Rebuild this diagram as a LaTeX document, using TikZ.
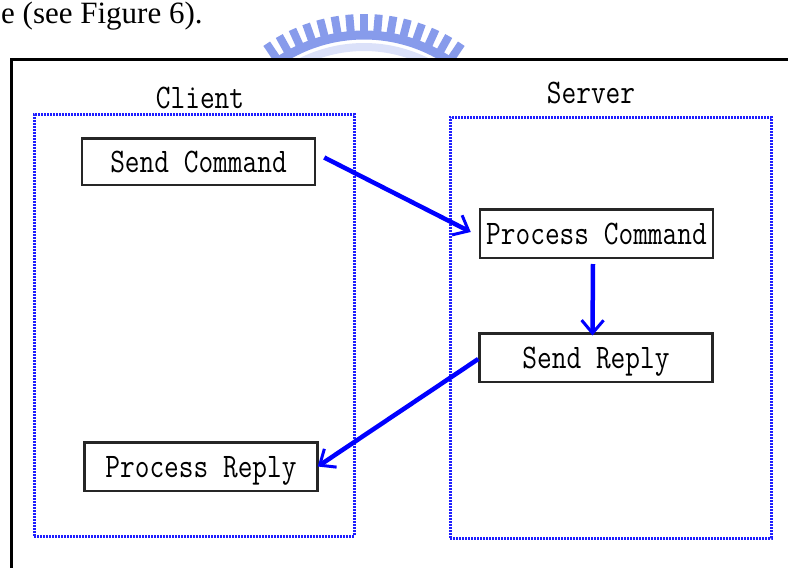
\documentclass[tikz,border=0pt]{standalone}
\usepackage{fontspec}
\setmainfont{Liberation Serif}
\usetikzlibrary{arrows.meta,calc}

\definecolor{flowblue}{RGB}{0,0,255}
\definecolor{dotblue}{RGB}{30,30,255}
\definecolor{crest}{RGB}{135,155,235}

% narrow, tall typewriter lettering for the diagram labels
\newcommand{\labelfont}{\fontsize{34.4}{36}\selectfont\ttfamily}
\newcommand{\narrow}[1]{\scalebox{0.83}[1]{#1}}

\tikzset{
  stepbox/.style={draw=black!85, line width=2.5pt, fill=white,
    minimum width=233pt, minimum height=48.5pt, inner sep=0pt,
    font=\labelfont, text height=21pt, text depth=0pt},
  grp/.style={draw=dotblue, line width=3pt, dash pattern=on 1.8pt off 1.2pt,
    inner sep=0pt},
  heading/.style={font=\labelfont, inner sep=0pt, text height=21pt, text depth=0pt},
  flow/.style={draw=flowblue, line width=4.5pt,
    -{Straight Barb[length=13pt,width=22pt,line width=3pt]}},
}

\begin{document}
\begin{tikzpicture}[x=1pt,y=-1pt]
\useasboundingbox (0,0) rectangle (788,568);
\clip (0,0) rectangle (788,568);

% running text above the figure
\node[anchor=base west, inner sep=0pt, font=\fontsize{31}{33}\selectfont] (caption) at (1,23.5) {e (see Figure 6).};

% crest above the frame
\begin{scope}
  \clip (0,0) rectangle (788,58);
  \draw[crest!30, line width=8pt] plot[domain=-122:-58, samples=40]
    ({364+141*cos(\x)}, {188+141*sin(\x)});
  \draw[crest, line width=9pt] plot[domain=-126:-54, samples=40]
    ({364+153*cos(\x)}, {188+153*sin(\x)});
  \foreach \i [evaluate=\i as \a using -124+\i*68/14] in {0,...,14}
    \draw[crest, line width=8pt] ({364+155*cos(\a)}, {188+155*sin(\a)})
      -- ({364+174*cos(\a)}, {188+174*sin(\a)});
\end{scope}

% outer frame (continues past the right and bottom edges)
\draw[line width=3pt] (800,59.5) -| (11.7,600);

% client and server regions
\node[grp, minimum width=320pt, minimum height=422pt] (client) at (194,325) {};
\node[grp, minimum width=321pt, minimum height=421pt] (server) at (610.5,327.5) {};
\node[heading] (clientlbl) at (200,97.5) {\narrow{Client}};
\node[heading] (serverlbl) at (591,93) {\narrow{Server}};

% processing steps
\node[stepbox, minimum height=46.5pt] (sc) at (198.5,161.5) {\narrow{Send Command}};
\node[stepbox] (pc) at (596.5,233.5) {\narrow{Process Command}};
\node[stepbox] (sr) at (596,357.5) {\narrow{Send Reply}};
\node[stepbox] (pr) at (201,466.5) {\narrow{Process Reply}};

% message flow
\draw[flow] ([xshift=8pt,yshift=4pt]sc.east) -- ([xshift=-8pt,yshift=1.5pt]pc.west);
\draw[flow] ([xshift=-3.5pt,yshift=-5pt]pc.south) -- ([xshift=-3.5pt,yshift=-3.5pt]sr.north);
\draw[flow] ([yshift=-1.5pt]sr.west) -- ([xshift=-1pt]pr.east);
\end{tikzpicture}
\end{document}
